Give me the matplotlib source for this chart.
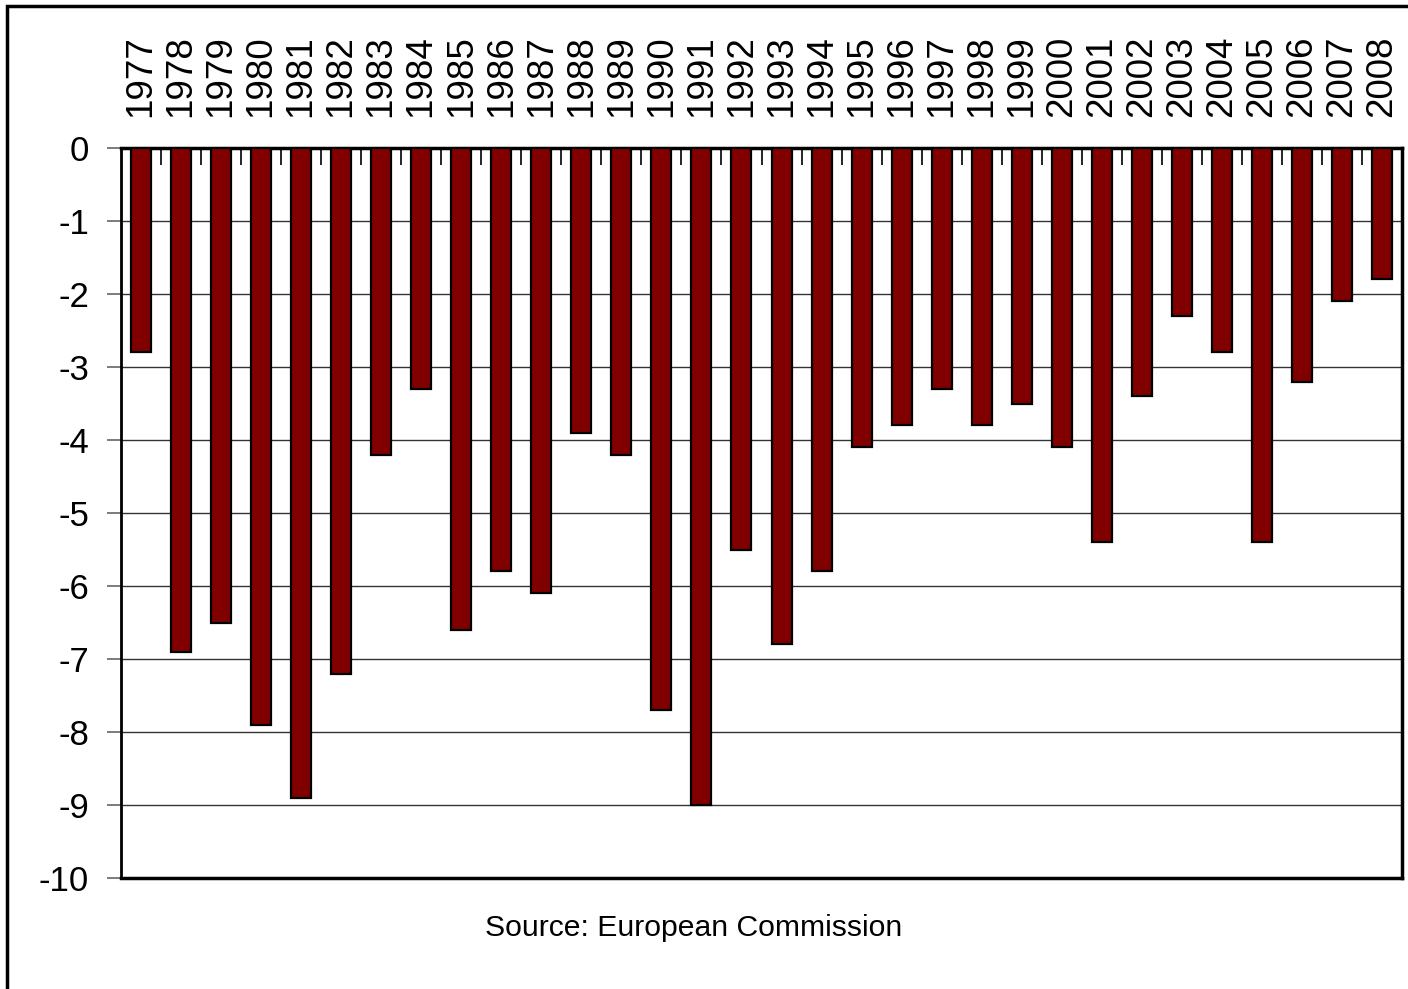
import numpy as np
import matplotlib
matplotlib.use('Agg')
import matplotlib.pyplot as plt
from matplotlib.patches import Rectangle

plt.rcParams['font.family'] = ['Liberation Sans', 'DejaVu Sans']

# data
years = [str(y) for y in range(1977, 2009)]
balance = [-2.8, -6.9, -6.5, -7.9, -8.9, -7.2, -4.2, -3.3, -6.6, -5.8,
           -6.1, -3.9, -4.2, -7.7, -9.0, -5.5, -6.8, -5.8, -4.1, -3.8,
           -3.3, -3.8, -3.5, -4.1, -5.4, -3.4, -2.3, -2.8, -5.4, -3.2,
           -2.1, -1.8]
yticks = list(range(0, -11, -1))
source_note = 'Source: European Commission'

fig = plt.figure(figsize=(14.08, 9.89), dpi=100)
ax = fig.add_axes([121/1408, 1 - 878/989, (1402 - 121)/1408, (878 - 148)/989])

x = np.arange(len(years))
ax.bar(x, balance, width=0.5, color='#800000', edgecolor='black', linewidth=1.6, zorder=3)

ax.set_xlim(-0.5, len(years) - 0.5)
ax.set_ylim(-10, 0)

# labels at the top, tick marks at category boundaries
ax.xaxis.tick_top()
ax.set_xticks(x)
ax.set_xticklabels(years, rotation=90, fontsize=26.5)
ax.tick_params(axis='x', which='major', length=0, pad=22)
ax.set_xticks(np.arange(0.5, len(years) - 0.5, 1), minor=True)
ax.tick_params(axis='x', which='minor', top=True, bottom=False, direction='in',
               length=12, width=1.2, color='black')

ax.set_yticks(yticks)
ax.set_yticklabels([str(v) for v in yticks], fontsize=25)
ax.tick_params(axis='y', length=10, width=1.2, color='#666666', pad=13)

ax.yaxis.grid(True, color='#333333', linewidth=1.0, zorder=0)
ax.set_axisbelow(True)

for side in ['left', 'right', 'bottom', 'top']:
    ax.spines[side].set_color('black')
ax.spines['left'].set_linewidth(2)
ax.spines['right'].set_linewidth(2.5)
ax.spines['bottom'].set_linewidth(2.5)
ax.spines['top'].set_linewidth(2.5)

fig.text(694/1408, 1 - 928/989, source_note, ha='center', va='center', fontsize=21.7)

# outer chart frame (only top and left edges visible in the picture)
frame = Rectangle((7/1408, -0.1), 1.2, 1 - 6/989 + 0.1, transform=fig.transFigure,
                  fill=False, edgecolor='black', linewidth=2.5)
fig.add_artist(frame)

fig.savefig('out.png', dpi=100)
